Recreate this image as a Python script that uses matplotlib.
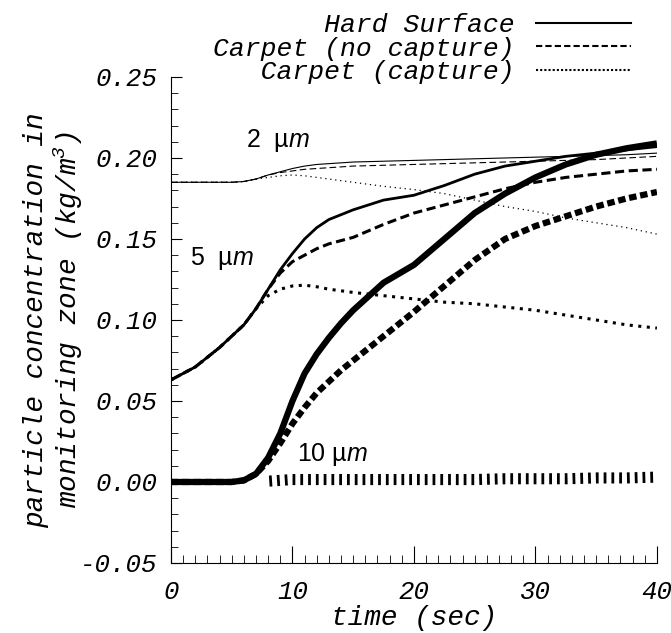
import numpy as np
import matplotlib
matplotlib.use('Agg')
import matplotlib.pyplot as plt
from matplotlib.ticker import MultipleLocator

plt.rcParams['font.family'] = 'Liberation Mono'
plt.rcParams['font.style'] = 'italic'
plt.rcParams['mathtext.fontset'] = 'custom'
plt.rcParams['mathtext.rm'] = 'Liberation Mono:italic'
plt.rcParams['mathtext.it'] = 'Liberation Sans:italic'

# time axis (sec)
time = [0, 2, 4, 5, 6, 7, 8, 9, 10, 11, 12, 13, 14, 15, 17.5, 20, 22.5, 25,
        27.5, 30, 32.5, 35, 37.5, 40]

# 2 micron particles
hard_2 = [0.185, 0.185, 0.185, 0.185, 0.1855, 0.187, 0.1895, 0.1915, 0.1935,
          0.195, 0.196, 0.1965, 0.197, 0.1975, 0.198, 0.1985, 0.199, 0.1995,
          0.200, 0.2005, 0.201, 0.2015, 0.202, 0.203]
nocap_2 = [0.185, 0.185, 0.185, 0.185, 0.1855, 0.187, 0.1895, 0.191, 0.192,
           0.193, 0.1935, 0.194, 0.1945, 0.195, 0.1955, 0.196, 0.1965, 0.197,
           0.1975, 0.198, 0.1985, 0.199, 0.200, 0.201]
cap_2 = [0.185, 0.185, 0.185, 0.185, 0.1855, 0.187, 0.188, 0.189, 0.1895,
         0.189, 0.188, 0.187, 0.186, 0.185, 0.1825, 0.1805, 0.178, 0.174,
         0.170, 0.167, 0.163, 0.160, 0.157, 0.153]

# 5 micron particles
hard_5 = [0.063, 0.071, 0.083, 0.090, 0.097, 0.107, 0.119, 0.131, 0.141,
          0.150, 0.157, 0.162, 0.165, 0.168, 0.174, 0.177, 0.183, 0.190,
          0.195, 0.198, 0.201, 0.203, 0.205, 0.207]
nocap_5 = [0.063, 0.071, 0.083, 0.090, 0.097, 0.107, 0.119, 0.129, 0.136,
           0.140, 0.144, 0.147, 0.149, 0.151, 0.159, 0.166, 0.171, 0.176,
           0.181, 0.185, 0.188, 0.190, 0.192, 0.193]
cap_5 = [0.063, 0.071, 0.083, 0.090, 0.097, 0.107, 0.115, 0.119, 0.121,
         0.1215, 0.1205, 0.119, 0.118, 0.117, 0.115, 0.113, 0.111, 0.110,
         0.108, 0.106, 0.103, 0.100, 0.097, 0.095]

# 10 micron particles (capture curve hidden under the solid one before 8 s)
hard_10 = [0.0, 0.0, 0.0, 0.0, 0.001, 0.005, 0.015, 0.030, 0.050, 0.067,
           0.079, 0.089, 0.098, 0.106, 0.123, 0.134, 0.150, 0.166, 0.178,
           0.188, 0.196, 0.202, 0.206, 0.209]
nocap_10 = [0.0, 0.0, 0.0, 0.0, 0.001, 0.005, 0.013, 0.024, 0.036, 0.046,
            0.055, 0.062, 0.069, 0.075, 0.090, 0.105, 0.121, 0.137, 0.150,
            0.158, 0.164, 0.170, 0.175, 0.179]
cap_10 = [np.nan, np.nan, np.nan, np.nan, np.nan, np.nan, 0.0005, 0.001,
          0.0015, 0.0015, 0.0015, 0.0015, 0.0015, 0.0015, 0.0015, 0.0015,
          0.0015, 0.0015, 0.002, 0.002, 0.002, 0.0025, 0.0025, 0.003]

fig = plt.figure(figsize=(6.71, 6.33), dpi=100)
ax = fig.add_axes([0.2548, 0.1106, 0.7242, 0.7678])

ax.plot(time, cap_10, color='k', lw=8, ls=(0.6, (0.25, 0.45)))

ax.plot(time, hard_2, color='k', lw=0.8, ls='-')
ax.plot(time, nocap_2, color='k', lw=0.8, ls=(0, (6, 3)))
ax.plot(time, cap_2, color='k', lw=0.9, ls=(0, (1, 3)))

ax.plot(time, hard_5, color='k', lw=2.0, ls='-')
ax.plot(time, nocap_5, color='k', lw=2.2, ls=(0, (3, 1.5)))
ax.plot(time, cap_5, color='k', lw=2.2, ls=(0, (1, 1.8)))

ax.plot(time, nocap_10, color='k', lw=4.5, ls=(0, (1.2, 0.6)))
ax.plot(time, hard_10, color='k', lw=4.5, ls='-', solid_capstyle='butt')

lab_kw = dict(family='Liberation Sans', style='normal', fontsize=18,
              ha='center', va='center')
ax.text(8.8, 0.211, '2  \u00b5$m$', **lab_kw)
ax.text(4.2, 0.138, '5  \u00b5$m$', **lab_kw)
ax.text(13.3, 0.0167, '10 \u00b5$m$', **lab_kw)

ax.set_xlim(0, 40)
ax.set_ylim(-0.05, 0.25)
ax.xaxis.set_major_locator(MultipleLocator(10))
ax.xaxis.set_minor_locator(MultipleLocator(1))
ax.yaxis.set_major_locator(MultipleLocator(0.05))
ax.yaxis.set_minor_locator(MultipleLocator(0.01))
ax.yaxis.set_major_formatter(plt.FuncFormatter(lambda v, p: '%.2f' % v))
ax.spines['top'].set_visible(False)
ax.spines['right'].set_visible(False)
ax.tick_params(which='both', direction='in', labelsize=18.5)
ax.tick_params(axis='x', which='major', length=12, pad=12)
ax.tick_params(axis='x', which='minor', length=6)
ax.tick_params(axis='y', which='major', length=8, pad=10)
ax.tick_params(axis='y', which='minor', length=5)

ax.set_xlabel('time (sec)', fontsize=20, labelpad=1)
ax.set_ylabel('particle concentration in\nmonitoring zone (kg/m$^3$)',
              fontsize=20, labelpad=-4, linespacing=1.1)

handles = [plt.Line2D([], [], color='k', lw=1.5, ls='-'),
           plt.Line2D([], [], color='k', lw=1.5, ls=(0, (3, 1.5))),
           plt.Line2D([], [], color='k', lw=1.5, ls=(0, (1, 1)))]
labels = ['       Hard Surface', 'Carpet (no capture)', '   Carpet (capture)']
fig.legend(handles, labels, loc='upper right', bbox_to_anchor=(0.96, 1.0),
           frameon=False, markerfirst=False, fontsize=19, handlelength=3.6,
           handletextpad=0.8, labelspacing=-0.02, borderpad=0)

fig.savefig('out.png', dpi=100)
